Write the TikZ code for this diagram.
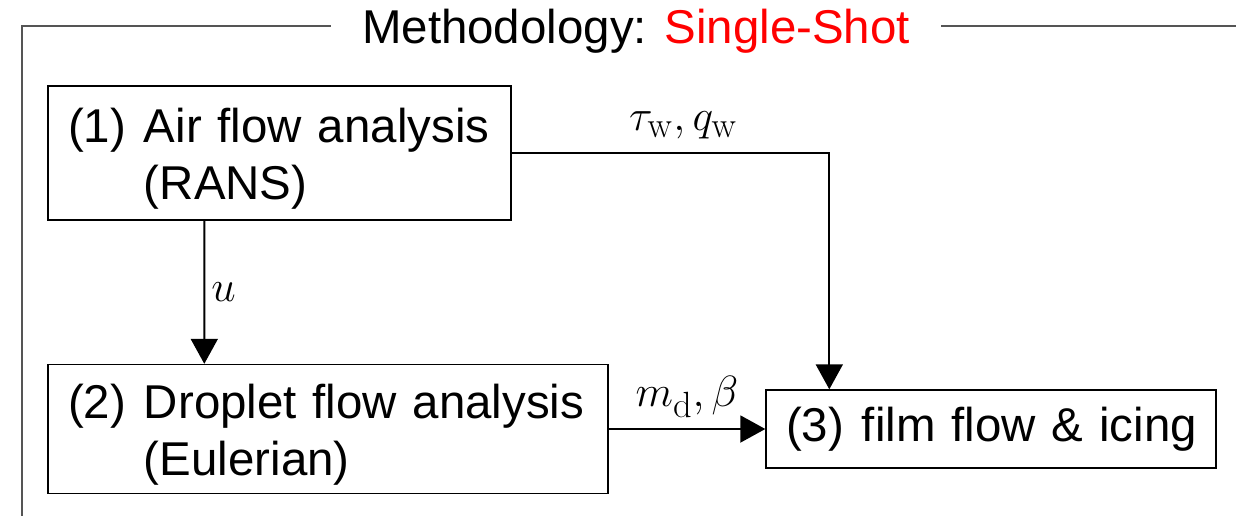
\documentclass[tikz,border=0pt]{standalone}
\usepackage{amsmath}
\usepackage[no-math]{fontspec}
\setmainfont{Liberation Sans}
\usepackage{tikz}
\usetikzlibrary{arrows.meta}
\definecolor{framegray}{HTML}{555555}
\definecolor{methodred}{HTML}{FF0000}

% numbered stage text, second line hangs under the first word
\newcommand{\stagetext}[3]{%
  \raisebox{-0.14cm}[\height][\depth]{\begin{tabular}{@{}l@{\hspace{0.36cm}}l@{}}#1 & #2\\ & #3\end{tabular}}}

\begin{document}
\begin{tikzpicture}[
  every node/.style={font=\fontsize{27}{32.4}\selectfont},
  stage/.style={draw=black, line width=0.8pt, inner xsep=0.4cm, align=left},
  link/.style={-{Triangle[width=0.54cm, length=0.5cm]}, line width=1.1pt},
  lbl/.style={inner sep=0.12cm, font=\fontsize{31}{36}\selectfont}
]
\useasboundingbox (0,0) rectangle (24.72,10.32);

% Frame with title
\coordinate (corner) at (0.44,9.8);
\node[anchor=base, fill=white, inner xsep=0.62cm, inner ysep=0pt] (title) at (12.72,9.46)
  {Methodology: \textcolor{methodred}{Single-Shot}};
\draw[framegray, line width=1.1pt] (title.west |- corner) -- (corner) -- (0.44,0);
\draw[framegray, line width=1.1pt] (title.east |- corner) -- (24.72,9.8);

% Stages
\node[stage, text width=8.46cm, minimum height=2.68cm] (air) at (5.59,7.26)
  {\stagetext{(1)}{Air flow analysis}{(RANS)}};
\node[stage, text width=10.4cm, minimum height=2.58cm] (drop) at (6.56,1.74)
  {\stagetext{(2)}{Droplet flow analysis}{(Eulerian)}};
\node[stage, text width=8.2cm, minimum height=1.56cm] (film) at (19.82,1.74)
  {\mbox{(3)\hspace{0.36cm}film flow \& icing}};

% Coupling
\draw[link] ([xshift=3.14cm]air.south west) -- ([xshift=3.14cm]drop.north west)
  node[lbl, midway, right] {$u$};
\draw[link] (air.east) -| ([xshift=1.28cm]film.north west)
  node[lbl, pos=0.27, above, inner ysep=0.26cm] {$\tau_{\mathrm{w}}, q_{\mathrm{w}}$};
\draw[link] (drop.east) -- (film.west)
  node[lbl, midway, above, inner ysep=0.22cm] {$m_{\mathrm{d}}, \beta$};

\end{tikzpicture}
\end{document}
